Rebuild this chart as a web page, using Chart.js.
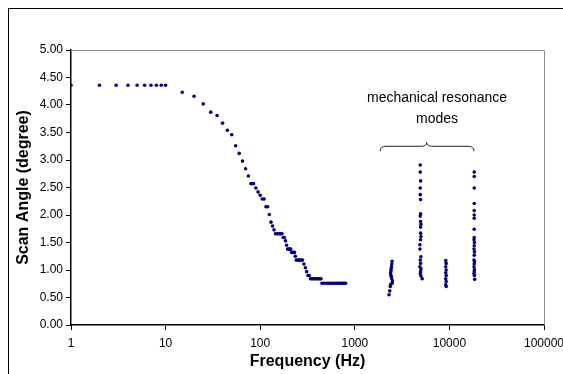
<!DOCTYPE html>
<html>
<head>
<meta charset="utf-8">
<script src="https://cdn.jsdelivr.net/npm/chart.js@4.4.1/dist/chart.umd.min.js"></script>
<style>
  html, body { margin:0; padding:0; background:#fff; overflow:hidden; }
  #wrap { position:relative; width:563px; height:374px; }
</style>
</head>
<body>
<div id="wrap"><canvas id="c" width="563" height="374"></canvas></div>
<script>
// ---- data ----
var X_TICKS = [1, 10, 100, 1000, 10000, 100000];

// servo roll-off curve
var F_MAIN = [1,2,3,4,5,6,7,8,9,10, 15,20,25,30,35,40,45,50,55,60,65,70,75,80,85,90,95,100,
  105,110,115,120,125,130,135,140,145,150,155,160,165,170,175,180,185,190,195,200,205,210,
  215,220,225,230,235,240,250,260,270,280,290,300,310,320,330,
  340,350,360,370,380,390,400,410,420,430,440,
  450,475,500,525,550,575,600,625,650,675,700,725,750,775,800];
var V_MAIN = [4.36,4.36,4.36,4.36,4.36,4.36,4.36,4.36,4.36,4.36, 4.23,4.16,4.02,3.87,3.81,3.67,3.54,3.46,3.26,3.12,2.98,2.84,2.71,2.57,2.57,2.49,2.42,2.36,
  2.29,2.29,2.15,2.15,2.01,1.87,1.80,1.73,1.66,1.66,1.66,1.66,1.66,1.66,1.59,1.59,1.53,1.45,1.38,1.38,1.38,1.38,
  1.32,1.32,1.32,1.32,1.25,1.18,1.18,1.18,1.18,1.18,1.11,1.04,0.97,0.90,0.90,
  0.84,0.84,0.84,0.84,0.84,0.84,0.84,0.84,0.84,0.84,0.84,
  0.76,0.76,0.76,0.76,0.76,0.76,0.76,0.76,0.76,0.76,0.76,0.76,0.76,0.76,0.76];

// resonance mode ~2.4 kHz
var F_MODE_A = [2300,2340,2370,2400,2480,2500,2460,2430,2400,2390,2410,2420,2440,2460,2480];
var V_MODE_A = [0.55,0.62,0.70,0.74,0.76,0.80,0.84,0.88,0.91,0.95,0.98,1.02,1.06,1.11,1.16];
// resonance mode ~5 kHz
var F_MODE_B = [4920,4920,4960,4920,4920,4960,4960,4920,4960,5000,4960,4960,5000,4960,4880,4880,5000,4920,4960,4880,5000,4960,4920,5000,5160];
var V_MODE_B = [2.91,2.78,2.62,2.49,2.37,2.28,2.02,1.98,1.88,1.83,1.78,1.67,1.61,1.55,1.46,1.38,1.24,1.18,1.12,1.06,1.02,0.97,0.93,0.89,0.84];
// resonance mode ~9 kHz
var F_MODE_C = [9150,9250,9150,9250,9150,9250,9150,9250,9150,9250];
var V_MODE_C = [1.17,1.12,1.06,1.00,0.95,0.90,0.84,0.79,0.73,0.70];
// resonance mode ~18 kHz
var F_MODE_D = [18300,18300,18300,18300,18300,18300,18300,18300,18300,18200,18400,18300,18200,18400,18300,18200,18400,18300,18200,18400,18300,18200,18400,18500];
var V_MODE_D = [2.78,2.70,2.49,2.21,2.08,2.00,1.94,1.74,1.59,1.55,1.50,1.44,1.38,1.33,1.27,1.18,1.15,1.11,1.06,1.01,0.97,0.93,0.90,0.83];

var NOTE_LINES = ['mechanical resonance', 'modes'];

// ---- style ----
var NAVY = '#000080';
var FONT = 'Arial, "Liberation Sans", sans-serif';

function pts(xs, ys){ var out=[]; for(var i=0;i<xs.length;i++) out.push({x:xs[i], y:ys[i]}); return out; }
function ds(xs, ys){ return { data:pts(xs, ys), backgroundColor:NAVY, borderColor:NAVY, pointRadius:1.8, pointBorderWidth:0 }; }

var overlay = {
  id:'overlay',
  beforeDatasetsDraw: function(chart){
    var a=chart.chartArea, c=chart.ctx;
    c.save(); c.strokeStyle='#8c8c8c'; c.lineWidth=1;
    c.beginPath();
    c.moveTo(a.left, a.top+0.5); c.lineTo(a.right+0.5, a.top+0.5); c.lineTo(a.right+0.5, a.bottom);
    c.stroke(); c.restore();
  },
  afterDraw: function(chart){
    var c=chart.ctx, sx=chart.scales.x, sy=chart.scales.y;
    c.save();
    // outer chart frame
    c.strokeStyle='#000'; c.lineWidth=1;
    c.strokeRect(8.5, 8.5, 800, 800);
    // note text
    c.fillStyle='#000'; c.font='14px '+FONT; c.textAlign='center'; c.textBaseline='middle';
    var tx=sx.getPixelForValue(7400);
    c.fillText(NOTE_LINES[0], tx, sy.getPixelForValue(4.13));
    c.fillText(NOTE_LINES[1], tx, sy.getPixelForValue(3.75));
    // curly brace
    var xl=sx.getPixelForValue(1850), xr=sx.getPixelForValue(18200), xt=sx.getPixelForValue(5750);
    var yb=sy.getPixelForValue(3.25);
    c.strokeStyle='#222'; c.lineWidth=1;
    c.beginPath();
    c.moveTo(xl, yb+5);
    c.quadraticCurveTo(xl, yb, xl+6, yb);
    c.lineTo(xt-5, yb);
    c.quadraticCurveTo(xt, yb, xt, yb-4);
    c.quadraticCurveTo(xt, yb, xt+5, yb);
    c.lineTo(xr-6, yb);
    c.quadraticCurveTo(xr, yb, xr, yb+5);
    c.stroke();
    c.restore();
  }
};

new Chart(document.getElementById('c').getContext('2d'), {
  type:'scatter',
  data:{ datasets:[ ds(F_MAIN,V_MAIN), ds(F_MODE_A,V_MODE_A), ds(F_MODE_B,V_MODE_B), ds(F_MODE_C,V_MODE_C), ds(F_MODE_D,V_MODE_D) ] },
  options:{
    responsive:false, animation:false, devicePixelRatio:1,
    layout:{ padding:{ left:0, right:19, top:50, bottom:0 } },
    plugins:{ legend:{display:false}, tooltip:{enabled:false} },
    scales:{
      x:{ type:'logarithmic', min:1, max:100000,
        afterBuildTicks:function(s){ s.ticks = X_TICKS.map(function(v){ return {value:v}; }); },
        afterFit:function(s){ s.height = 49; s.paddingLeft = 0; s.paddingRight = 0; },
        grid:{ drawOnChartArea:false, tickLength:5, color:'#000' },
        border:{ color:'#000', width:1.5 },
        ticks:{ color:'#000', font:{size:12, family:FONT}, padding:6, maxRotation:0, autoSkip:false,
          callback:function(v){ return String(v); } },
        title:{ display:true, text:'Frequency (Hz)', color:'#000', font:{size:16, weight:'bold', family:FONT}, padding:{top:0, bottom:3} }
      },
      y:{ min:0, max:5,
        afterFit:function(s){ s.width = 71; },
        grid:{ drawOnChartArea:false, tickLength:5, color:'#000' },
        border:{ color:'#000', width:1.5 },
        ticks:{ stepSize:0.5, color:'#000', font:{size:12, family:FONT}, padding:3,
          callback:function(v){ return Number(v).toFixed(2); } },
        title:{ display:true, text:'Scan Angle (degree)', color:'#000', font:{size:16, weight:'bold', family:FONT}, padding:{top:14, bottom:0} }
      }
    }
  },
  plugins:[overlay]
});
</script>
</body>
</html>
